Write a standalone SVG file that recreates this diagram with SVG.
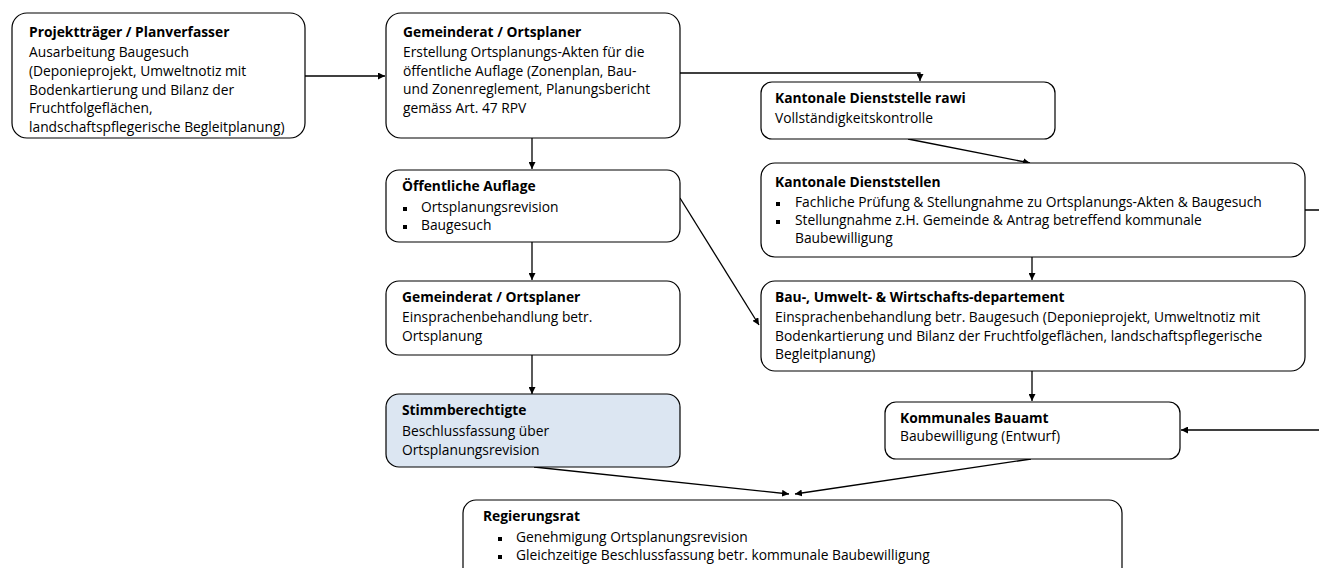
<svg xmlns="http://www.w3.org/2000/svg" width="1319" height="568" viewBox="0 0 1319 568">
<style>
.box{fill:#ffffff;stroke:#000000;stroke-width:1.2}
.blue{fill:#dce6f2}
text{font-family:"Open Sans","Liberation Sans",sans-serif;font-size:13.8px;fill:#000000}
.t{font-weight:bold}
.c{fill:none;stroke:#000000;stroke-width:1.3}
.b{fill:#000000}
</style>
<defs>
<marker id="ah" viewBox="0 0 10 10" refX="10" refY="5" markerWidth="7" markerHeight="7" markerUnits="userSpaceOnUse" orient="auto">
<path d="M0,0 L10,5 L0,10 z" fill="#000000"/>
</marker>
</defs>
<rect width="1319" height="568" fill="#ffffff"/>
<g id="connectors">
<path class="c" d="M305,76 H385" marker-end="url(#ah)"/>
<path class="c" d="M680,73 H920 V81" marker-end="url(#ah)"/>
<path class="c" d="M532,138 V169" marker-end="url(#ah)"/>
<path class="c" d="M908,139 L1030,163" marker-end="url(#ah)"/>
<path class="c" d="M1032,257 V280" marker-end="url(#ah)"/>
<path class="c" d="M1305,210 H1330 V430 H1181" marker-end="url(#ah)"/>
<path class="c" d="M532,242 V280" marker-end="url(#ah)"/>
<path class="c" d="M680,198 L759,325" marker-end="url(#ah)"/>
<path class="c" d="M532,355 V394" marker-end="url(#ah)"/>
<path class="c" d="M1032,371 V401" marker-end="url(#ah)"/>
<path class="c" d="M534,467 L789,494" marker-end="url(#ah)"/>
<path class="c" d="M1031,459 L795,494" marker-end="url(#ah)"/>
</g>
<g id="n1">
<rect class="box" x="12" y="13" width="293" height="125" rx="15"/>
<text class="t" x="29" y="37">Projektträger / Planverfasser</text>
<text x="29" y="57">Ausarbeitung Baugesuch</text>
<text x="29" y="76">(Deponieprojekt, Umweltnotiz mit</text>
<text x="29" y="94.5">Bodenkartierung und Bilanz der</text>
<text x="29" y="113">Fruchtfolgeflächen,</text>
<text x="29" y="131.5">landschaftspflegerische Begleitplanung)</text>
</g>
<g id="n2">
<rect class="box" x="386" y="13" width="294" height="125" rx="15"/>
<text class="t" x="403" y="37">Gemeinderat / Ortsplaner</text>
<text x="403" y="57">Erstellung Ortsplanungs-Akten für die</text>
<text x="403" y="75.5">öffentliche Auflage (Zonenplan, Bau-</text>
<text x="403" y="94">und Zonenreglement, Planungsbericht</text>
<text x="403" y="112.5">gemäss Art. 47 RPV</text>
</g>
<g id="n3">
<rect class="box" x="761" y="82" width="294" height="57" rx="11"/>
<text class="t" x="775" y="103">Kantonale Dienststelle rawi</text>
<text x="775" y="123">Vollständigkeitskontrolle</text>
</g>
<g id="n4">
<rect class="box" x="761" y="163" width="544" height="94" rx="14"/>
<text class="t" x="775" y="187">Kantonale Dienststellen</text>
<rect class="b" x="776" y="202" width="4" height="4"/>
<text x="795" y="207">Fachliche Prüfung &amp; Stellungnahme zu Ortsplanungs-Akten &amp; Baugesuch</text>
<rect class="b" x="776" y="220" width="4" height="4"/>
<text x="795" y="225">Stellungnahme z.H. Gemeinde &amp; Antrag betreffend kommunale</text>
<text x="795" y="243">Baubewilligung</text>
</g>
<g id="n5">
<rect class="box" x="386" y="170" width="294" height="72" rx="13"/>
<text class="t" x="402" y="191">Öffentliche Auflage</text>
<rect class="b" x="403" y="207" width="4" height="4"/>
<text x="421" y="212">Ortsplanungsrevision</text>
<rect class="b" x="403" y="225" width="4" height="4"/>
<text x="421" y="230">Baugesuch</text>
</g>
<g id="n6">
<rect class="box" x="386" y="281" width="294" height="74" rx="13"/>
<text class="t" x="402" y="302">Gemeinderat / Ortsplaner</text>
<text x="402" y="322">Einsprachenbehandlung betr.</text>
<text x="402" y="340.5">Ortsplanung</text>
</g>
<g id="n7">
<rect class="box" x="761" y="281" width="544" height="90" rx="14"/>
<text class="t" x="775" y="302">Bau-, Umwelt- &amp; Wirtschafts-departement</text>
<text x="775" y="322">Einsprachenbehandlung betr. Baugesuch (Deponieprojekt, Umweltnotiz mit</text>
<text x="775" y="340.5">Bodenkartierung und Bilanz der Fruchtfolgeflächen, landschaftspflegerische</text>
<text x="775" y="359">Begleitplanung)</text>
</g>
<g id="n8">
<rect class="box blue" x="386" y="394" width="294" height="73" rx="13"/>
<text class="t" x="402" y="415">Stimmberechtigte</text>
<text x="402" y="436">Beschlussfassung über</text>
<text x="402" y="454.5">Ortsplanungsrevision</text>
</g>
<g id="n9">
<rect class="box" x="885" y="402" width="295" height="57" rx="11"/>
<text class="t" x="900" y="423">Kommunales Bauamt</text>
<text x="900" y="441">Baubewilligung (Entwurf)</text>
</g>
<g id="n10">
<rect class="box" x="463" y="500" width="659" height="90" rx="13"/>
<text class="t" x="483" y="521">Regierungsrat</text>
<rect class="b" x="498" y="537" width="4" height="4"/>
<text x="516" y="542">Genehmigung Ortsplanungsrevision</text>
<rect class="b" x="498" y="555" width="4" height="4"/>
<text x="516" y="560">Gleichzeitige Beschlussfassung betr. kommunale Baubewilligung</text>
</g>
</svg>
